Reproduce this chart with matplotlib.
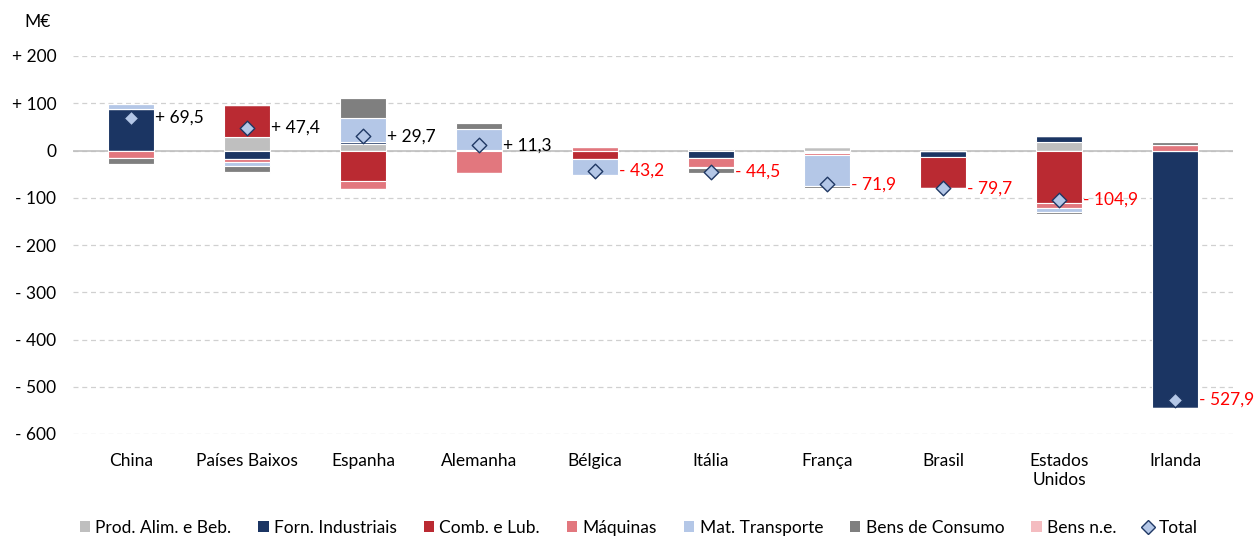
import numpy as np
import matplotlib.pyplot as plt
from matplotlib.lines import Line2D
from matplotlib.patches import Patch

plt.rcParams['font.family'] = ['Lato', 'DejaVu Sans']

paises = ['China', 'Países Baixos', 'Espanha', 'Alemanha', 'Bélgica', 'Itália',
          'França', 'Brasil', 'Estados\nUnidos', 'Irlanda']

series = ['Prod. Alim. e Beb.', 'Forn. Industriais', 'Comb. e Lub.', 'Máquinas',
          'Mat. Transporte', 'Bens de Consumo', 'Bens n.e.']

prod_alim = [0, 28, 14, -2, 0, 3, 7.1, 0, 17.5, 0]
forn_ind = [87, -18, 4, 2, 0, -15, -3, -14.5, 12.7, -546]
comb_lub = [0, 67.4, -64, 0, -19, 0, -2, -65.2, -112, 0]
maquinas = [-16, -6, -18, -44.7, 8, -19, -5, 0, -9, 12.5]
mat_transp = [12, -9, 50, 43, -32.2, -4, -66, 0, -9, 0]
bens_cons = [-13.5, -12, 43.7, 13, 0, -9.5, -3, 0, -5.1, 5.6]
bens_ne = [0, -3, 0, 0, 0, 0, 0, 0, 0, 0]

total = [69.5, 47.4, 29.7, 11.3, -43.2, -44.5, -71.9, -79.7, -104.9, -527.9]
total_txt = ['+ 69,5', '+ 47,4', '+ 29,7', '+ 11,3', '- 43,2', '- 44,5', '- 71,9',
             '- 79,7', '- 104,9', '- 527,9']

cores = ['#BFBFBF', '#1B3563', '#BA2A32', '#E2777E', '#B4C7E7', '#7F7F7F', '#F4BCC0']

dados = [prod_alim, forn_ind, comb_lub, maquinas, mat_transp, bens_cons, bens_ne]

fig = plt.figure(figsize=(12.55, 5.38), dpi=100)
ax = fig.add_axes([73/1255, 1 - 434/538, (1233 - 73)/1255, (434 - 56)/538])

x = np.arange(len(paises))
larg = 0.4
base_pos = np.zeros(len(paises))
base_neg = np.zeros(len(paises))
for nome, vals, cor in zip(series, dados, cores):
    v = np.array(vals, dtype=float)
    pos = np.where(v > 0, v, 0)
    neg = np.where(v < 0, v, 0)
    ax.bar(x, pos, larg, bottom=base_pos, color=cor, edgecolor='white', linewidth=0.8, zorder=3)
    ax.bar(x, neg, larg, bottom=base_neg, color=cor, edgecolor='white', linewidth=0.8, zorder=3)
    base_pos += pos
    base_neg += neg

ax.scatter(x, total, marker='D', s=55, facecolor='#B4C7E7', edgecolor='#1F3864',
           linewidth=1, zorder=5)

for xi, t, s in zip(x, total, total_txt):
    ax.text(xi + larg/2 + 0.005, t, s, ha='left', va='center', fontsize=12.5,
            color='black' if t > 0 else '#FF0000', zorder=6)

ax.set_xlim(-0.5, 9.5)
ax.set_ylim(-600, 200)
ax.set_yticks(range(-600, 201, 100))
ax.set_yticklabels(['- 600', '- 500', '- 400', '- 300', '- 200', '- 100', '0',
                    '+ 100', '+ 200'], fontsize=12.5)
ax.set_xticks(x)
ax.set_xticklabels(paises, fontsize=12.5)
ax.tick_params(length=0, pad=14)
ax.tick_params(axis='y', pad=12)
ax.grid(axis='y', linestyle=(0, (4, 3)), color='#D0D0D0', linewidth=0.9, zorder=0)
ax.axhline(0, color='#BFBFBF', linewidth=1.2, zorder=2)
for sp in ax.spines.values():
    sp.set_visible(False)

fig.text(38/1255, 1 - 22/538, 'M€', ha='center', va='center', fontsize=12.5)

handles = [Patch(facecolor=c, edgecolor='none') for c in cores]
handles.append(Line2D([], [], marker='D', linestyle='none', markersize=7,
                      markerfacecolor='#B4C7E7', markeredgecolor='#1F3864'))
fig.legend(handles, series + ['Total'], loc='center', bbox_to_anchor=(0.509, 1 - 528/538),
           ncol=8, frameon=False, fontsize=12.5, handlelength=0.6, handleheight=0.6,
           handletextpad=0.3, columnspacing=1.55)

fig.savefig('out.png', dpi=100)
